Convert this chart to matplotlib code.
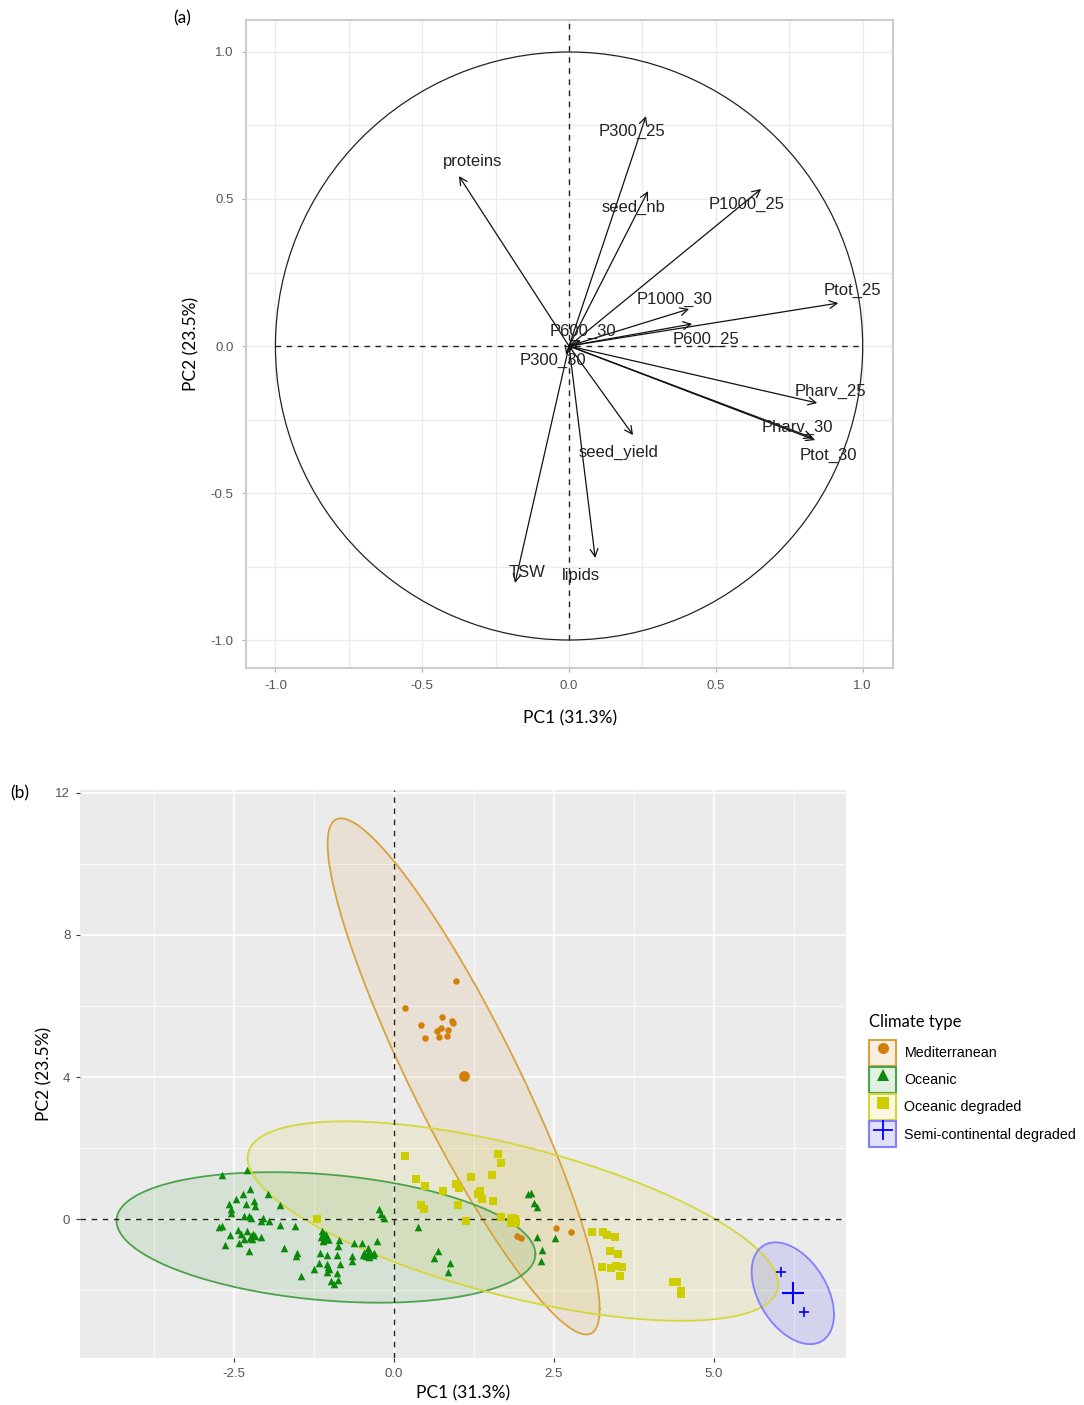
import numpy as np
import matplotlib
matplotlib.use("Agg")
import matplotlib.pyplot as plt
from matplotlib.patches import Patch, Circle
from matplotlib.lines import Line2D
from matplotlib.legend_handler import HandlerTuple

# ---------------- Panel (a): variable loadings ----------------
var_names = ["proteins", "P300_25", "seed_nb", "P1000_25", "Ptot_25", "P1000_30",
             "P600_25", "P600_30", "P300_30", "Pharv_25", "Pharv_30", "Ptot_30",
             "seed_yield", "TSW", "lipids"]
var_pc1 = [-0.375, 0.262, 0.269, 0.654, 0.917, 0.409, 0.419, 0.04, -0.01,
           0.845, 0.831, 0.838, 0.218, -0.184, 0.089]
var_pc2 = [0.578, 0.782, 0.527, 0.534, 0.146, 0.126, 0.075, 0.02, -0.03,
           -0.194, -0.313, -0.320, -0.303, -0.806, -0.721]

# label placement (layout, data units of the label centre)
label_pos = {
    "proteins": (-0.330, 0.626), "P300_25": (0.215, 0.731), "seed_nb": (0.218, 0.473),
    "P1000_25": (0.606, 0.480), "Ptot_25": (0.964, 0.190), "P1000_30": (0.358, 0.160),
    "P600_25": (0.467, 0.022), "P600_30": (0.048, 0.050), "P300_30": (-0.055, -0.050),
    "Pharv_25": (0.889, -0.153), "Pharv_30": (0.777, -0.276), "Ptot_30": (0.882, -0.371),
    "seed_yield": (0.170, -0.361), "TSW": (-0.143, -0.769), "lipids": (0.041, -0.779),
}

# ---------------- Panel (b): individuals ----------------
groups = ["Mediterranean", "Oceanic", "Oceanic degraded", "Semi-continental degraded"]

med_pc1 = [0.973, 0.177, 0.755, 0.902, 0.922, 0.417, 0.739, 0.667, 0.848, 0.489,
           0.708, 0.833, 2.536, 2.77, 1.92, 1.98]
med_pc2 = [6.69, 5.95, 5.69, 5.59, 5.53, 5.46, 5.37, 5.31, 5.33, 5.10,
           5.13, 5.17, -0.24, -0.35, -0.46, -0.53]

oce_pc1 = [-2.68, -2.29, -2.25, -2.36, -2.47, -2.58, -2.55, -2.55, -2.31, -2.18,
           -2.16, -1.97, -1.78, -2.34, -2.26, -2.23, -2.05, -1.95, -2.08, -2.73,
           -2.68, -2.44, -2.29, -2.56, -2.39, -2.23, -2.16, -2.08, -2.34, -2.21,
           -2.42, -2.64, -2.26, -1.77, -1.54, -1.71, -1.51, -1.52, -1.125, -1.09,
           -1.04, -1.11, -0.85, -0.87, -1.15, -1.04, -0.88, -1.45, -1.24, -1.17,
           -1.04, -1.01, -0.84, -1.04, -0.88, -0.98, -0.93, -0.87, -0.65, -0.65,
           -0.62, -0.49, -0.41, -0.46, -0.36, -0.31, -0.26, -0.44, -0.39, -0.23,
           -0.20, -0.16, 0.37, 0.69, 0.62, 0.88, 0.85, 2.09, 2.14, 2.19,
           2.23, 2.24, 2.51, 2.31, 2.30, -2.20, -2.25, -0.40, -0.33, -0.48,
           -1.09, -1.13, -1.02]
oce_pc2 = [1.26, 1.40, 0.84, 0.70, 0.58, 0.42, 0.28, 0.19, 0.42, 0.51,
           0.37, 0.72, 0.39, 0.09, 0.09, 0.05, 0.05, -0.05, -0.05, -0.21,
           -0.19, -0.30, -0.33, -0.45, -0.42, -0.47, -0.47, -0.51, -0.56, -0.56,
           -0.66, -0.73, -0.89, -0.17, -0.19, -0.82, -0.96, -1.03, -0.33, -0.47,
           -0.56, -0.61, -0.58, -0.75, -0.94, -1.00, -1.01, -1.59, -1.40, -1.22,
           -1.26, -1.40, -1.26, -1.48, -1.50, -1.73, -1.83, -1.71, -1.03, -1.17,
           -0.66, -0.66, -0.80, -0.94, -0.98, -0.94, -0.61, -1.03, -1.05, 0.28,
           0.14, 0.05, -0.21, -0.89, -1.10, -1.22, -1.48, 0.72, 0.75, 0.45,
           0.36, -0.49, -0.54, -0.86, -1.17, -0.40, -0.52, -0.95, -1.00, -1.00,
           -0.40, -0.50, -1.33]

deg_pc1 = [0.17, 1.625, 1.68, 0.34, 0.48, 1.20, 1.53, 0.77, 0.97, 1.02,
           1.34, 1.31, 1.375, 1.55, 0.43, 0.47, 1.00, 1.12, 1.67, 1.84,
           1.91, -1.20, 3.09, 3.27, 3.33, 3.46, 3.37, 3.50, 3.25, 3.39,
           3.47, 3.56, 3.53, 4.36, 4.42, 4.48, 4.49]
deg_pc2 = [1.77, 1.85, 1.59, 1.12, 0.94, 1.18, 1.26, 0.79, 0.98, 0.88,
           0.79, 0.70, 0.56, 0.52, 0.39, 0.29, 0.39, -0.05, 0.06, 0.03,
           -0.08, 0.00, -0.35, -0.35, -0.44, -0.51, -0.90, -0.99, -1.35, -1.38,
           -1.32, -1.35, -1.60, -1.76, -1.76, -2.01, -2.11]

semi_pc1 = [6.05, 6.41]
semi_pc2 = [-1.49, -2.61]

centroid_pc1 = [1.09, -1.06, 1.86, 6.23]
centroid_pc2 = [4.02, -0.51, -0.05, -2.08]

# concentration-ellipse shape matrices (PC1 var, PC2 var, covariance), per group
ell_sxx = [4.51, 10.69, 17.17, 0.413]
ell_syy = [52.71, 3.372, 7.87, 2.051]
ell_sxy = [-13.90, -1.529, -7.35, -0.387]

# ---------------- styles ----------------
colors = ["#D2800A", "#0A8A0A", "#CDCD00", "#0000FF"]
edge_colors = ["#D9A23C", "#4BA34B", "#D6D63A", "#7F7FFF"]
markers = ["o", "^", "s", "+"]
pt_sizes = [22, 30, 26, 60]
cen_sizes = [60, 80, 70, 260]

FS = "Liberation Sans"
TF = "Lato"

fig = plt.figure(figsize=(10.84, 14.05), dpi=100)

# ======== Panel (a) ========
axa = fig.add_axes([0.227, 0.5246, 0.597, 0.4612])
axa.set_xlim(-1.1, 1.104)
axa.set_ylim(-1.095, 1.109)
axa.set_facecolor("white")
for v in [-1, -0.75, -0.5, -0.25, 0, 0.25, 0.5, 0.75, 1.0]:
    axa.axvline(v, color="#EBEBEB", lw=1.0, zorder=0)
    axa.axhline(v, color="#EBEBEB", lw=1.0, zorder=0)
for s in axa.spines.values():
    s.set_color("#CCCCCC")
    s.set_linewidth(1.5)
axa.add_patch(Circle((0, 0), 1.0, fill=False, ec="#222222", lw=0.9, zorder=2))
axa.plot([-1, 1], [0, 0], ls=(0, (4, 4)), color="#222222", lw=1.0, zorder=2)
axa.plot([0, 0], [-1, 1.11], ls=(0, (4, 4)), color="#222222", lw=1.0, zorder=2)
for name, x, y in zip(var_names, var_pc1, var_pc2):
    axa.annotate("", xy=(x, y), xytext=(0, 0),
                 arrowprops=dict(arrowstyle="->,head_length=0.55,head_width=0.28",
                                 color="#111111", lw=0.9, shrinkA=0, shrinkB=0),
                 zorder=3)
    lx, ly = label_pos[name]
    axa.text(lx, ly, name, ha="center", va="center", fontsize=12, family=FS,
             color="#222222", zorder=4)
ticks = [-1.0, -0.5, 0.0, 0.5, 1.0]
axa.set_xticks(ticks)
axa.set_yticks(ticks)
axa.set_xticklabels([f"{t:.1f}" for t in ticks])
axa.set_yticklabels([f"{t:.1f}" for t in ticks])
axa.tick_params(length=3, color="#AAAAAA", labelcolor="#555555", labelsize=9.5, pad=6)
for lab in axa.get_xticklabels() + axa.get_yticklabels():
    lab.set_family(FS)
axa.set_xlabel("PC1 (31.3%)", fontsize=12.5, family=TF, labelpad=13)
axa.set_ylabel("PC2 (23.5%)", fontsize=12.5, family=TF, labelpad=8)
fig.text(182 / 1084, 1 - 18 / 1405, "(a)", fontsize=12.5, family=TF, ha="center", va="center")

# ======== Panel (b) ========
axb = fig.add_axes([0.0738, 0.0335, 0.7066, 0.4043])
axb.set_xlim(-4.9, 7.06)
axb.set_ylim(-3.9, 12.08)
axb.set_facecolor("#EBEBEB")
for s in axb.spines.values():
    s.set_visible(False)
for v in [-3.75, -1.25, 1.25, 3.75, 6.25]:
    axb.axvline(v, color="white", lw=0.6, zorder=0)
for v in [-2.5, 0, 2.5, 5.0]:
    axb.axvline(v, color="white", lw=1.2, zorder=0)
for v in [-2, 2, 6, 10]:
    axb.axhline(v, color="white", lw=0.6, zorder=0)
for v in [0, 4, 8, 12]:
    axb.axhline(v, color="white", lw=1.2, zorder=0)

t = np.linspace(0, 2 * np.pi, 300)
circ = np.vstack([np.cos(t), np.sin(t)])
for i in range(4):
    M = np.array([[ell_sxx[i], ell_sxy[i]], [ell_sxy[i], ell_syy[i]]])
    L = np.linalg.cholesky(M)
    pts = L @ circ
    ex = centroid_pc1[i] + pts[0]
    ey = centroid_pc2[i] + pts[1]
    axb.fill(ex, ey, color=colors[i], alpha=0.1, lw=0, zorder=1)
    axb.plot(ex, ey, color=edge_colors[i], lw=1.3, zorder=2)

axb.axhline(0, ls=(0, (4, 4)), color="#222222", lw=1.0, zorder=3)
axb.axvline(0, ls=(0, (4, 4)), color="#222222", lw=1.0, zorder=3)

series = [(med_pc1, med_pc2), (oce_pc1, oce_pc2), (deg_pc1, deg_pc2), (semi_pc1, semi_pc2)]
for i, (xs, ys) in enumerate(series):
    if markers[i] == "+":
        axb.scatter(xs, ys, marker="+", s=pt_sizes[i], color=colors[i], linewidths=1.2, zorder=4)
    else:
        axb.scatter(xs, ys, marker=markers[i], s=pt_sizes[i], color=colors[i], lw=0, zorder=4)
for i in range(4):
    if markers[i] == "+":
        axb.scatter([centroid_pc1[i]], [centroid_pc2[i]], marker="+", s=cen_sizes[i],
                    color=colors[i], linewidths=1.5, zorder=5)
    else:
        axb.scatter([centroid_pc1[i]], [centroid_pc2[i]], marker=markers[i], s=cen_sizes[i],
                    color=colors[i], lw=0, zorder=5)

axb.set_xticks([-2.5, 0.0, 2.5, 5.0])
axb.set_xticklabels(["-2.5", "0.0", "2.5", "5.0"])
axb.set_yticks([0, 4, 8, 12])
axb.set_yticklabels(["0", "4", "8", "12"])
axb.tick_params(length=3, color="#333333", labelcolor="#555555", labelsize=9.5, pad=4)
for lab in axb.get_xticklabels() + axb.get_yticklabels():
    lab.set_family(FS)
axb.set_xlabel("PC1 (31.3%)", fontsize=12.5, family=TF, labelpad=4)
axb.set_ylabel("PC2 (23.5%)", fontsize=12.5, family=TF, labelpad=2)
fig.text(20 / 1084, 1 - 793 / 1405, "(b)", fontsize=12.5, family=TF, ha="center", va="center")

handles = []
for i in range(4):
    p = Patch(facecolor=matplotlib.colors.to_rgba(colors[i], 0.12), edgecolor=edge_colors[i], lw=1.5)
    if markers[i] == "+":
        m = Line2D([], [], marker="+", color=colors[i], ls="", markersize=15, mew=1.3)
    else:
        m = Line2D([], [], marker=markers[i], color=colors[i], ls="", markersize=8, mew=0)
    handles.append((p, m))
leg = fig.legend(handles, groups, loc="upper left", bbox_to_anchor=(0.802, 0.2784),
                 handler_map={tuple: HandlerTuple(ndivide=1, pad=0)},
                 frameon=False, fontsize=10.3, title="Climate type", title_fontsize=12,
                 handlelength=1.85, handleheight=2.45, labelspacing=0.06, handletextpad=0.6,
                 borderaxespad=0, borderpad=0)
leg._legend_box.align = "left"
leg._legend_box.sep = 7
for txt in leg.get_texts():
    txt.set_family(FS)
leg.get_title().set_family(TF)

fig.savefig("out.png", dpi=100)
